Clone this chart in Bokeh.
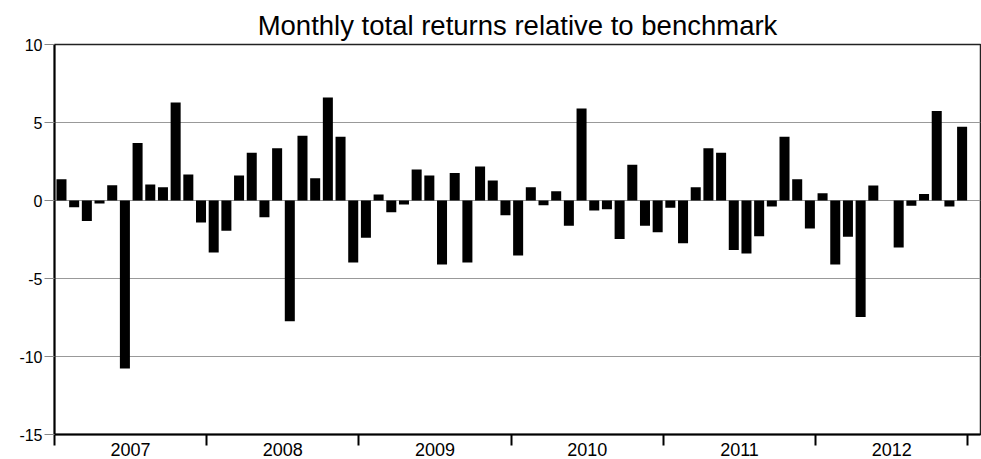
from bokeh.plotting import figure
from bokeh.models import FixedTicker, Range1d, ColumnDataSource
from bokeh.embed import file_html
from bokeh.resources import INLINE

# ---- data ----
years = ["2007", "2008", "2009", "2010", "2011", "2012"]
returns_2007 = [1.37, -0.43, -1.32, -0.19, 0.98, -10.77, 3.68, 1.03, 0.85, 6.28, 1.67, -1.41]
returns_2008 = [-3.33, -1.94, 1.60, 3.06, -1.07, 3.35, -7.74, 4.15, 1.43, 6.60, 4.08, -3.97]
returns_2009 = [-2.39, 0.38, -0.75, -0.26, 1.99, 1.60, -4.10, 1.77, -3.97, 2.18, 1.28, -0.94]
returns_2010 = [-3.53, 0.85, -0.30, 0.60, -1.62, 5.90, -0.64, -0.56, -2.46, 2.29, -1.62, -2.03]
returns_2011 = [-0.47, -2.74, 0.85, 3.35, 3.06, -3.18, -3.40, -2.29, -0.38, 4.08, 1.37, -1.79]
returns_2012 = [0.47, -4.10, -2.33, -7.46, 0.96, 0.0, -3.01, -0.34, 0.41, 5.73, -0.38, 4.72]
y_ticks = [-15, -10, -5, 0, 5, 10]
y_tick_labels = ["-15", "-10", "-5", "0", "5", "10"]
title_text = "Monthly total returns relative to benchmark"

returns = (returns_2007 + returns_2008 + returns_2009 +
           returns_2010 + returns_2011 + returns_2012)
months_per_year = 12
n = len(returns)

src = ColumnDataSource(dict(x=[i + 0.55 for i in range(n)], top=returns))

FONT = "Liberation Sans"

p = figure(width=981, height=459, output_backend="svg", toolbar_location=None,
           x_range=Range1d(0, n + 1), y_range=Range1d(y_ticks[0], y_ticks[-1]),
           min_border_left=54, min_border_right=1, min_border_top=44,
           min_border_bottom=25, title=title_text)

p.title.text_font = FONT
p.title.text_font_size = "27.5px"
p.title.text_font_style = "normal"
p.title.align = "center"
p.title.text_color = "black"
p.title.standoff = 7

p.vbar(x="x", top="top", bottom=0, width=0.79, source=src,
       fill_color="black", line_color=None)

p.background_fill_color = "white"
p.border_fill_color = "white"
p.outline_line_color = "#222222"
p.outline_line_width = 1.5

# x axis: year labels centered, year boundary ticks
mid = [i * months_per_year + months_per_year / 2 for i in range(len(years))]
bounds = [i * months_per_year for i in range(len(years) + 1)]
xa = p.xaxis[0]
xa.ticker = FixedTicker(ticks=mid, minor_ticks=bounds)
xa.major_label_overrides = {m: y for m, y in zip(mid, years)}
xa.major_tick_out = 0
xa.major_tick_in = 0
xa.minor_tick_out = 11
xa.minor_tick_in = 0
xa.minor_tick_line_color = "black"
xa.minor_tick_line_width = 2
xa.axis_line_color = "black"
xa.axis_line_width = 2
xa.major_label_standoff = -3
xa.major_label_text_font = FONT
xa.major_label_text_font_size = "18px"
xa.major_label_text_color = "black"
p.xgrid.visible = False

ya = p.yaxis[0]
ya.ticker = FixedTicker(ticks=y_ticks)
ya.major_label_overrides = {t: s for t, s in zip(y_ticks, y_tick_labels)}
ya.major_tick_out = 10
ya.major_tick_in = 0
ya.major_tick_line_color = "#888888"
ya.major_tick_line_width = 1
ya.minor_tick_out = 0
ya.minor_tick_in = 0
ya.axis_line_color = "black"
ya.axis_line_width = 2
ya.major_label_standoff = 2
ya.major_label_text_font = FONT
ya.major_label_text_font_size = "16px"
ya.major_label_text_color = "black"
p.ygrid.grid_line_color = "#999999"
p.ygrid.grid_line_width = 1

open("out.html", "w").write(file_html(p, INLINE))
